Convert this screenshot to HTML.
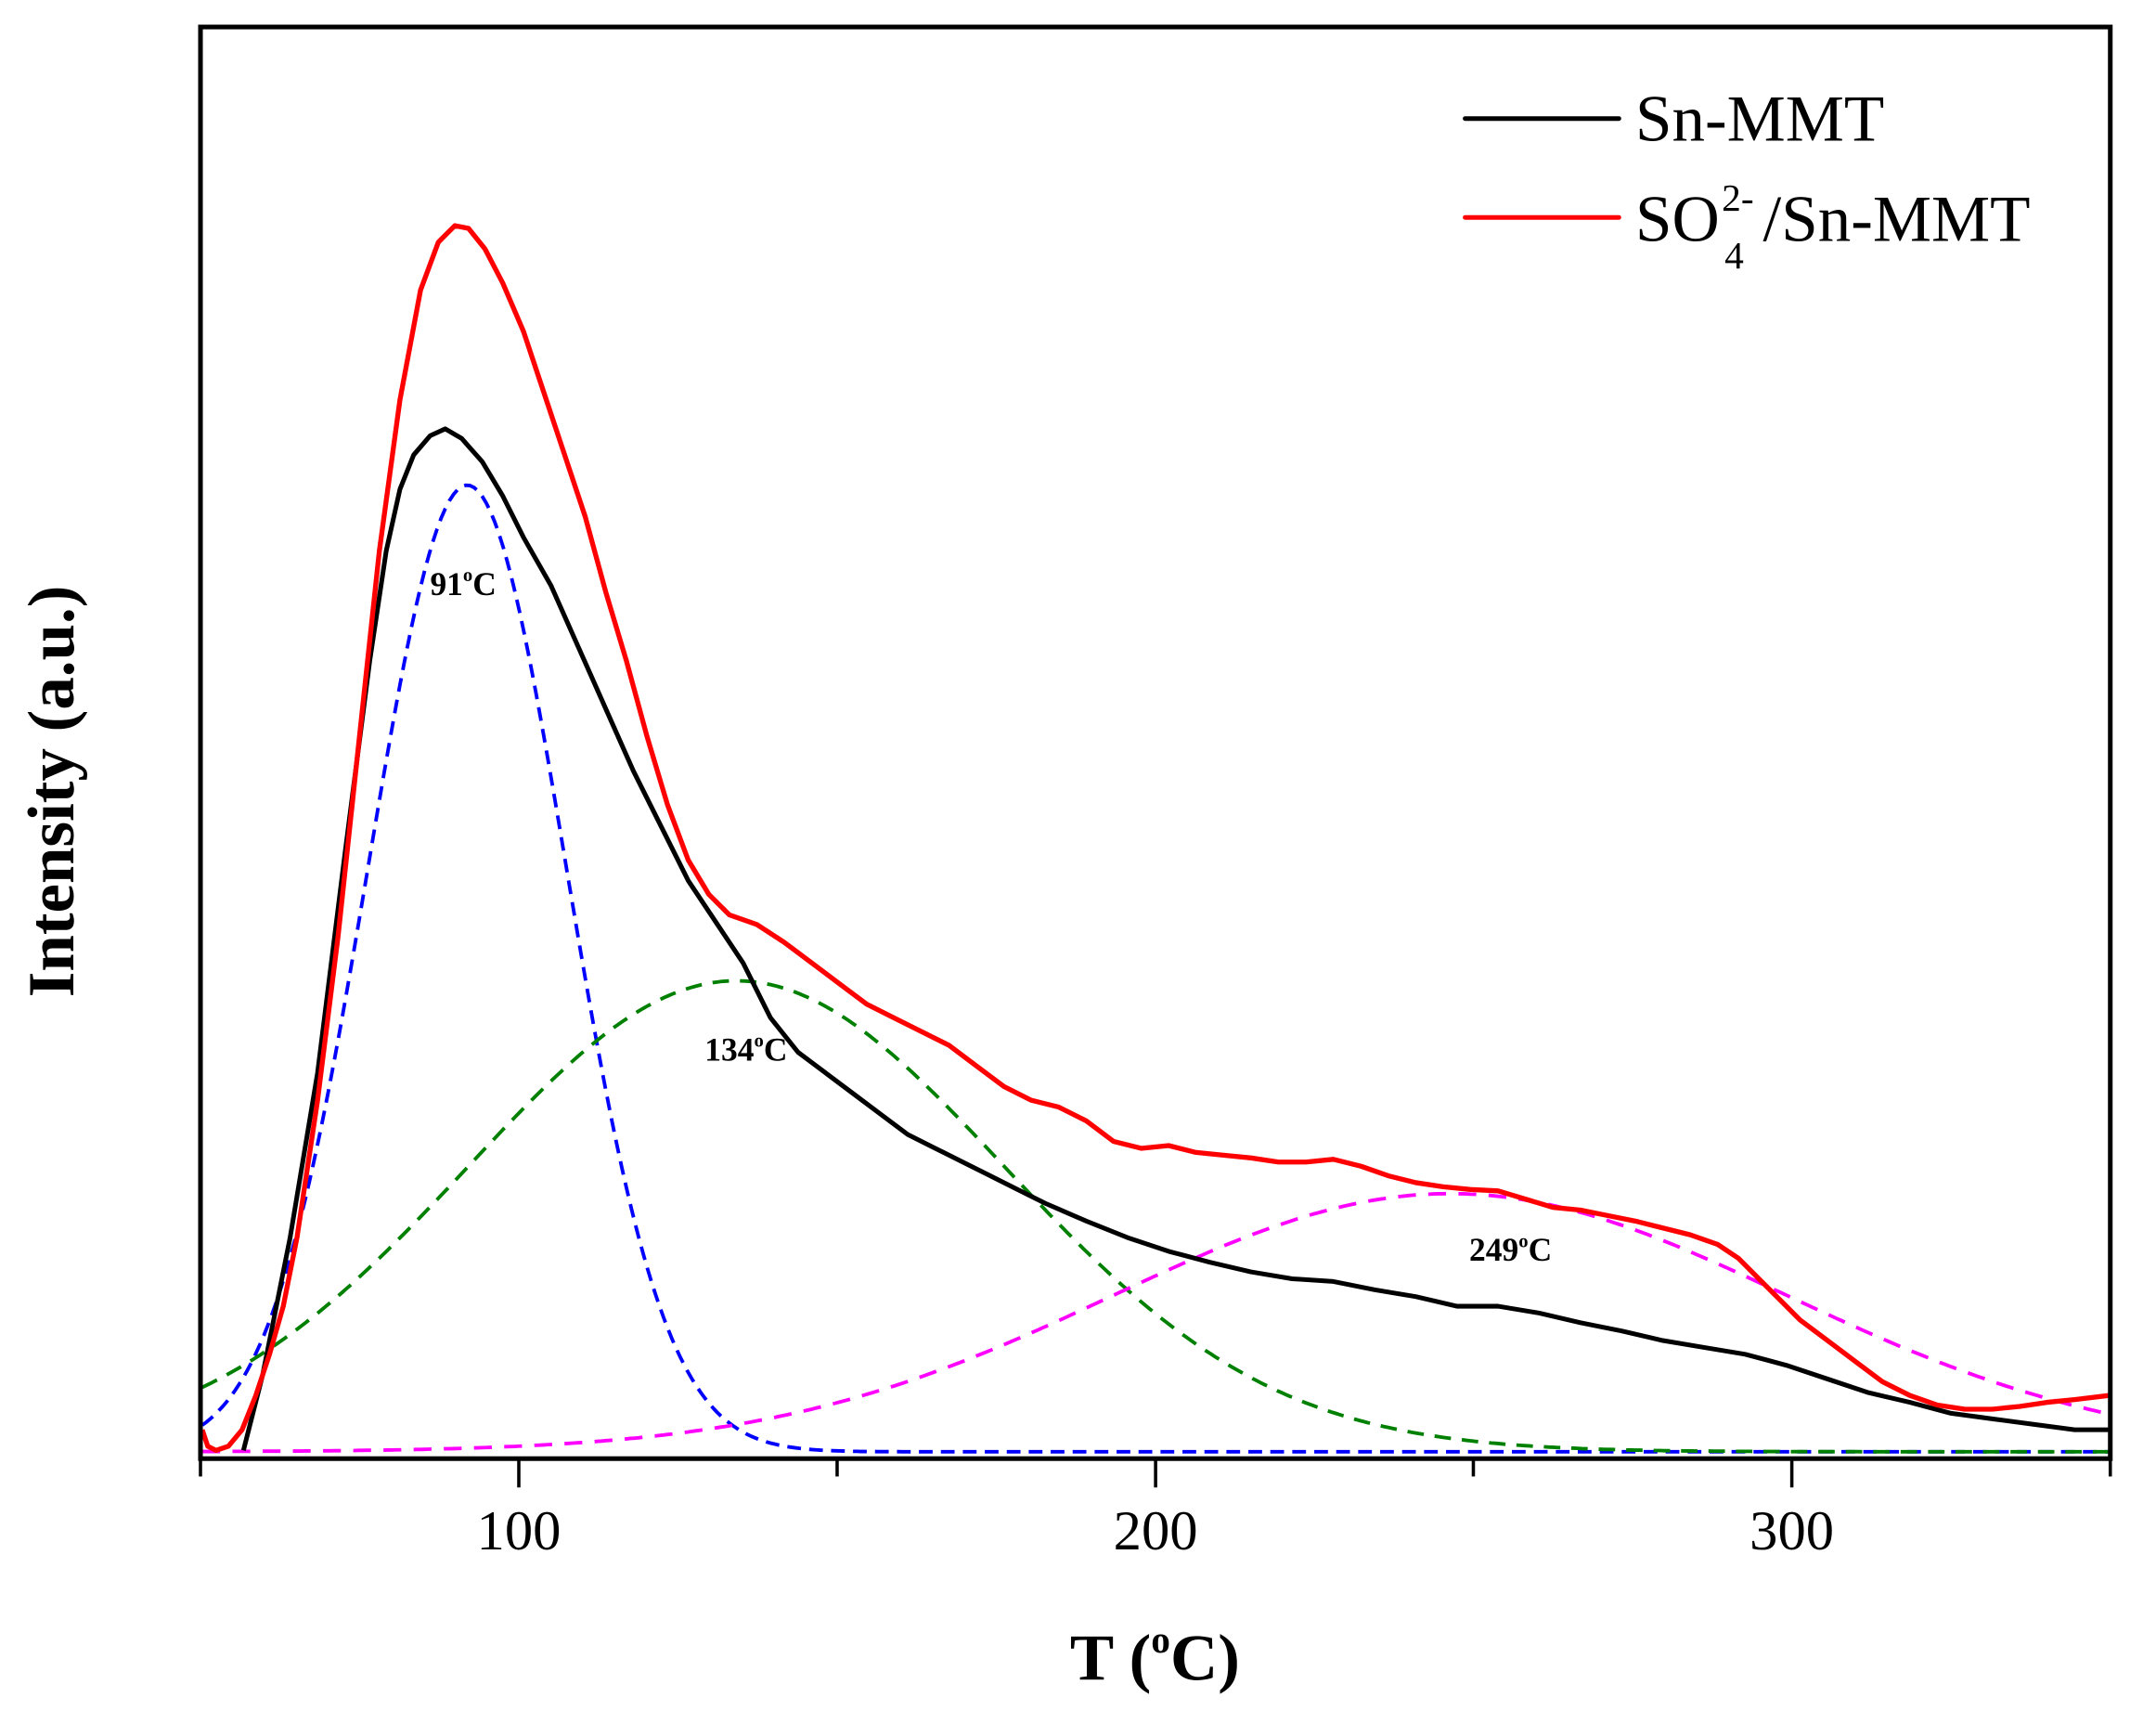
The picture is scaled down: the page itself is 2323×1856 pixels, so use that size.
<!DOCTYPE html>
<html><head><meta charset="utf-8"><style>
html,body{margin:0;padding:0;background:#fff;}
svg{display:block;}
text{font-family:"Liberation Serif",serif;}
</style></head><body>
<svg id="s" width="2323" height="1856" viewBox="0 0 2323 1856" xmlns="http://www.w3.org/2000/svg">
<rect width="2323" height="1856" fill="#fff"/>
<g transform="translate(2,2) scale(1.479)">
<polyline id="gb" fill="none" stroke="#0000ff" stroke-width="2.6" stroke-dasharray="10,6"/>
<polyline id="gg" fill="none" stroke="#008000" stroke-width="2.6" stroke-dasharray="12,8"/>
<polyline id="gm" fill="none" stroke="#ff00ff" stroke-width="2.6" stroke-dasharray="13,9"/>
<polyline fill="none" stroke="#000" stroke-width="3.4" stroke-linejoin="round" points="176,1055 190,1000 210,900 230,780 250,620 268,480 280,400 290,355 300,330 312,316 323,311 335,318 350,335 365,360 380,390 400,425 420,470 440,515 460,560 480,600 500,640 520,670 540,700 560,740 580,765 600,780 620,795 640,810 660,825 680,835 700,845 720,855 740,865 760,875 790,888 820,900 850,910 880,918 910,925 940,930 970,932 1000,938 1030,943 1060,950 1090,950 1120,955 1150,962 1180,968 1210,975 1240,980 1270,985 1300,993 1330,1003 1360,1013 1390,1020 1420,1028 1450,1032 1480,1036 1510,1040 1535,1040"/>
<polyline fill="none" stroke="#ff0000" stroke-width="3.6" stroke-linejoin="round" points="146,1040 150,1052 156,1055 165,1052 175,1040 185,1015 195,985 205,950 215,900 230,800 245,680 260,540 275,400 290,290 305,210 318,175 330,163 340,165 352,180 365,205 380,240 395,285 410,330 425,375 440,430 455,480 470,535 485,585 500,625 515,650 530,665 550,672 570,685 590,700 610,715 630,730 650,740 670,750 690,760 710,775 730,790 750,800 770,805 790,815 810,830 830,835 850,833 870,838 890,840 910,842 930,845 950,845 970,843 990,848 1010,855 1030,860 1050,863 1070,865 1090,866 1110,872 1130,878 1150,880 1170,884 1190,888 1210,893 1230,898 1250,905 1265,915 1280,930 1295,945 1310,960 1330,975 1350,990 1370,1005 1390,1015 1410,1022 1430,1025 1450,1025 1470,1023 1490,1020 1510,1018 1535,1015"/>
<rect x="144.7" y="18.3" width="1391.3" height="1042.7" fill="none" stroke="#000" stroke-width="3.4"/>
<g stroke="#000" stroke-width="2.4">
<line x1="144.7" y1="1061" x2="144.7" y2="1074"/>
<line x1="376.6" y1="1061" x2="376.6" y2="1082"/>
<line x1="608.5" y1="1061" x2="608.5" y2="1074"/>
<line x1="840.5" y1="1061" x2="840.5" y2="1082"/>
<line x1="1072" y1="1061" x2="1072" y2="1074"/>
<line x1="1304" y1="1061" x2="1304" y2="1082"/>
<line x1="1536" y1="1061" x2="1536" y2="1074"/>
</g>
<g font-size="41" text-anchor="middle">
<text x="376.6" y="1127">100</text>
<text x="840.5" y="1127">200</text>
<text x="1304" y="1127">300</text>
</g>
<text x="840" y="1222" font-size="48" font-weight="bold" text-anchor="middle">T (<tspan font-size="28" dy="-20">o</tspan><tspan dy="20">C)</tspan></text>
<text transform="translate(52,575) rotate(-90)" font-size="48" font-weight="bold" text-anchor="middle">Intensity (a.u.)</text>
<g font-size="24" font-weight="bold">
<text x="312" y="432">91<tspan font-size="14" dy="-10">o</tspan><tspan dy="10">C</tspan></text>
<text x="512" y="771">134<tspan font-size="14" dy="-10">o</tspan><tspan dy="10">C</tspan></text>
<text x="1069" y="917">249<tspan font-size="14" dy="-10">o</tspan><tspan dy="10">C</tspan></text>
</g>
<line x1="1066" y1="85" x2="1178" y2="85" stroke="#000" stroke-width="3.4" stroke-linecap="round"/>
<line x1="1066" y1="157" x2="1178" y2="157" stroke="#ff0000" stroke-width="3.4" stroke-linecap="round"/>
<text x="1190" y="101" font-size="48">Sn-MMT</text>
<text x="1190" y="174" font-size="48">SO</text>
<text x="1253" y="152" font-size="28">2-</text>
<text x="1255" y="194" font-size="28">4</text>
<text x="1283" y="174" font-size="48">/Sn-MMT</text>
</g>
</svg>
<script>
function g(id,c,a,s){var p=[];for(var x=146;x<=1535;x+=3){var y=1056-a*Math.exp(-(x-c)*(x-c)/(2*s*s));p.push(x+","+y.toFixed(1));}document.getElementById(id).setAttribute("points",p.join(" "));}
g("gb",339,704,72);g("gg",535,343,195);g("gm",1055,188,245);
</script>
</body></html>
